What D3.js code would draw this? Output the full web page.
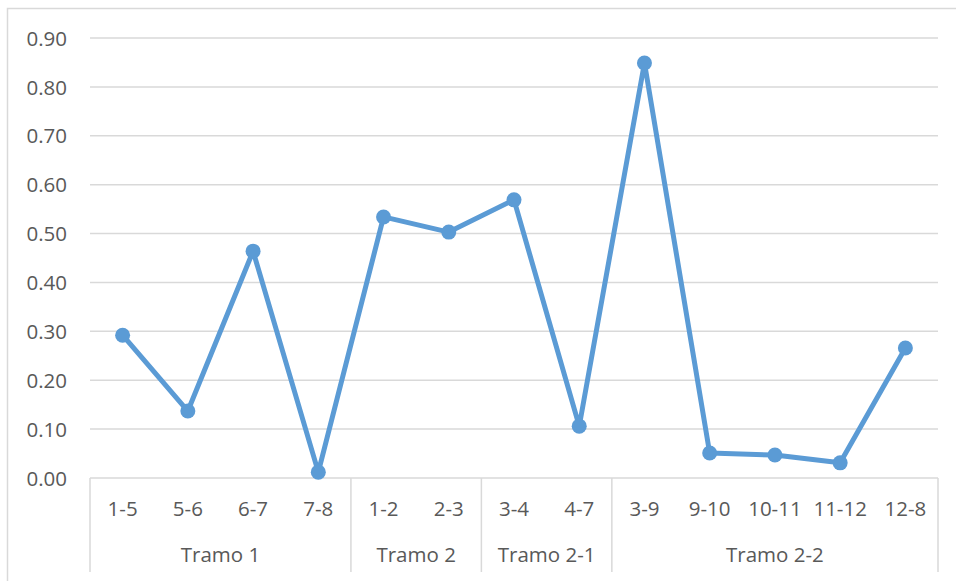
<!DOCTYPE html>
<html>
<head>
<meta charset="utf-8">
<script src="https://cdn.jsdelivr.net/npm/d3@7"></script>
<style>
  html, body { margin: 0; padding: 0; background: #fff; }
  svg { display: block; }
  text { font-family: "Open Sans", "Noto Sans", sans-serif; fill: #595959; }
</style>
</head>
<body>
<svg id="chart" width="956" height="581"></svg>
<script>
// Segment labels, their section grouping and measured values
const segments = ["1-5", "5-6", "6-7", "7-8", "1-2", "2-3", "3-4", "4-7", "3-9", "9-10", "10-11", "11-12", "12-8"];
const sections = ["Tramo 1", "Tramo 1", "Tramo 1", "Tramo 1", "Tramo 2", "Tramo 2", "Tramo 2-1", "Tramo 2-1",
                  "Tramo 2-2", "Tramo 2-2", "Tramo 2-2", "Tramo 2-2", "Tramo 2-2"];
const values = [0.292, 0.137, 0.464, 0.012, 0.534, 0.503, 0.569, 0.106, 0.849, 0.051, 0.047, 0.031, 0.266];
const yTicks = [0, 0.1, 0.2, 0.3, 0.4, 0.5, 0.6, 0.7, 0.8, 0.9];

const svg = d3.select("#chart");
const plotLeft = 90, plotRight = 938, plotTop = 38, plotBottom = 478;
const gridColor = "#d9d9d9";
const lineColor = "#5b9bd5";
const fontSize = 20.5;

// Outer chart frame (right and bottom edges fall outside the view)
svg.append("rect")
  .attr("x", 7.5).attr("y", 8.5)
  .attr("width", 960).attr("height", 590)
  .attr("fill", "none").attr("stroke", gridColor).attr("stroke-width", 1.5);

const x = d3.scaleBand().domain(segments.map((d, i) => i)).range([plotLeft, plotRight]);
const y = d3.scaleLinear().domain([0, 0.9]).range([plotBottom, plotTop]);

// Horizontal gridlines
svg.append("g").selectAll("line").data(yTicks).join("line")
  .attr("x1", plotLeft).attr("x2", plotRight)
  .attr("y1", d => y(d)).attr("y2", d => y(d))
  .attr("stroke", gridColor).attr("stroke-width", 1.5);

// Y axis labels
const yAxis = d3.axisLeft(y).tickValues(yTicks).tickFormat(d3.format(".2f")).tickSize(0).tickPadding(23);
const yg = svg.append("g").attr("transform", `translate(${plotLeft},0)`).call(yAxis);
yg.select(".domain").remove();
yg.selectAll("text").attr("font-size", fontSize).attr("fill", "#595959")
  .attr("font-family", "'Open Sans', sans-serif").attr("dy", "0.35em");

// Category labels
svg.append("g").selectAll("text").data(segments).join("text")
  .attr("x", (d, i) => x(i) + x.bandwidth() / 2)
  .attr("y", 509).attr("dy", "0.35em")
  .attr("text-anchor", "middle").attr("font-size", fontSize)
  .text(d => d);

// Section groups built from consecutive runs
const groups = [];
sections.forEach((s, i) => {
  const g = groups[groups.length - 1];
  if (g && g.name === s) g.end = i; else groups.push({ name: s, start: i, end: i });
});
const edge = k => k < segments.length ? x(k) : plotRight;
const bounds = [groups[0].start].concat(groups.map(g => g.end + 1));
svg.append("g").selectAll("line").data(bounds).join("line")
  .attr("x1", d => edge(d)).attr("x2", d => edge(d))
  .attr("y1", plotBottom).attr("y2", 572)
  .attr("stroke", gridColor).attr("stroke-width", 1.5);
svg.append("g").selectAll("text").data(groups).join("text")
  .attr("x", g => (edge(g.start) + edge(g.end + 1)) / 2)
  .attr("y", 555).attr("dy", "0.35em")
  .attr("text-anchor", "middle").attr("font-size", fontSize)
  .text(g => g.name);

// Series line and markers
const line = d3.line().x((d, i) => x(i) + x.bandwidth() / 2).y(d => y(d));
svg.append("path").datum(values)
  .attr("d", line).attr("fill", "none")
  .attr("stroke", lineColor).attr("stroke-width", 5).attr("stroke-linejoin", "round");
svg.append("g").selectAll("circle").data(values).join("circle")
  .attr("cx", (d, i) => x(i) + x.bandwidth() / 2).attr("cy", d => y(d))
  .attr("r", 7.5).attr("fill", lineColor);
</script>
</body>
</html>
